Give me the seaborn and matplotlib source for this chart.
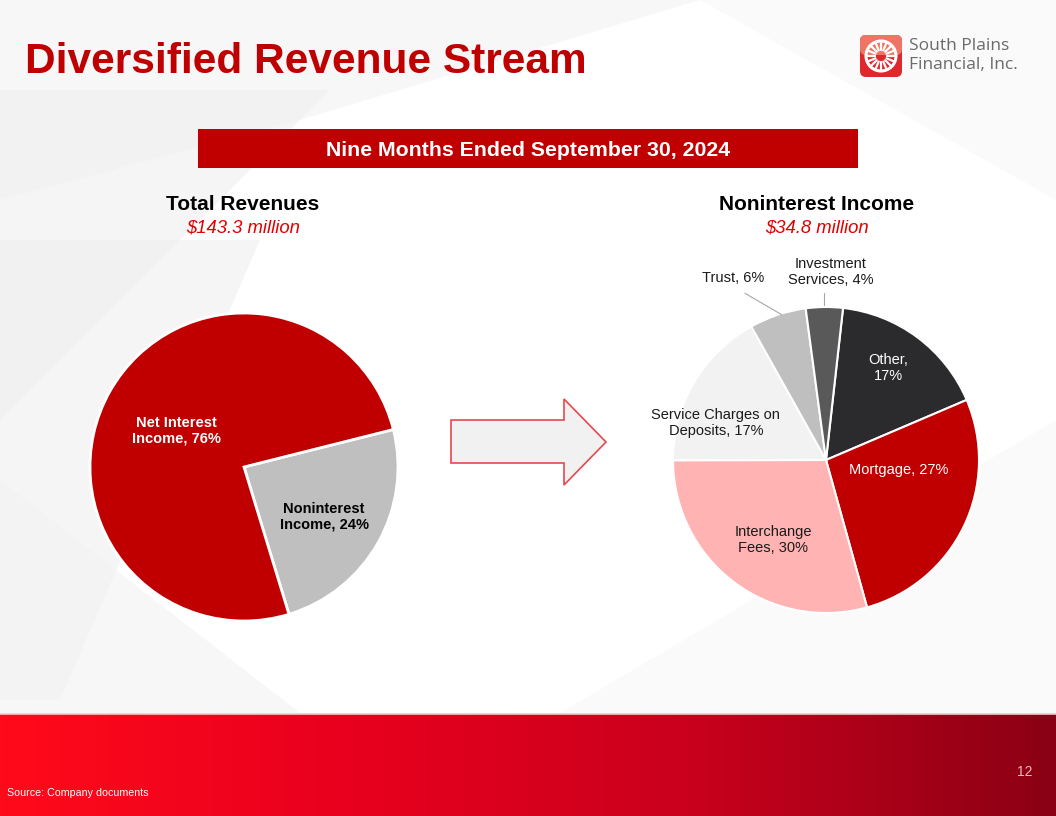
import numpy as np
import matplotlib
matplotlib.use("Agg")
import matplotlib.pyplot as plt
import seaborn as sns
from matplotlib.patches import Polygon, FancyBboxPatch, Circle
from matplotlib.colors import LinearSegmentedColormap

sns.set_theme(style="white")
plt.rcParams['font.family'] = ['Liberation Sans', 'DejaVu Sans']

# Data
total_labels = ['Noninterest\nIncome, 24%', 'Net Interest\nIncome, 76%']
total_values = [24.2, 75.8]
total_colors = ['#BFBFBF', '#C00000']

nonint_labels = ['Other,\n17%', 'Mortgage, 27%', 'Interchange\nFees, 30%',
                 'Service Charges on\nDeposits, 17%', 'Trust, 6%', 'Investment\nServices, 4%']
nonint_values = [16.8, 27.1, 29.3, 16.9, 6.0, 3.9]
nonint_colors = ['#2B2B2D', '#C00000', '#FFB3B3', '#F2F2F2', '#BFBFBF', '#595959']

W, H = 1056, 816
fig = plt.figure(figsize=(W / 100, H / 100), dpi=100)
fig.patch.set_facecolor('white')

# background / slide decoration in pixel coordinates
bg = fig.add_axes([0, 0, 1, 1])
bg.set_xlim(0, W)
bg.set_ylim(H, 0)
bg.axis('off')

grays = [
    ([(0, 0), (700, 0), (300, 120), (0, 200)], '#F3F3F3'),
    ([(0, 90), (330, 90), (0, 420)], '#EFEFEF'),
    ([(0, 240), (260, 240), (60, 700), (0, 700)], '#EFEFEF'),
    ([(0, 480), (300, 713), (0, 713)], '#F3F3F3'),
    ([(560, 713), (1056, 420), (1056, 713)], '#F8F8F8'),
    ([(700, 0), (1056, 0), (1056, 200)], '#F8F8F8'),
]
for pts, c in grays:
    bg.add_patch(Polygon(pts, closed=True, facecolor=c, edgecolor='none', alpha=0.6))

band_cmap = LinearSegmentedColormap.from_list('band', ['#FF0A1A', '#E8001E', '#C8001C', '#8A0014'])
bg.imshow(np.linspace(0, 1, 256)[None, :], extent=[0, W, H, 714], cmap=band_cmap,
          aspect='auto', zorder=1)
bg.plot([0, W], [714, 714], color='#F4C6C9', lw=1.2, zorder=2)
bg.set_xlim(0, W)
bg.set_ylim(H, 0)

# title
bg.text(25, 62, 'Diversified Revenue Stream', color='#C00000', fontsize=30.5,
        fontweight='bold', va='center', ha='left')

# logo
bg.add_patch(FancyBboxPatch((860, 35), 42, 42, boxstyle='round,pad=0,rounding_size=6',
                            facecolor='#E0272B', edgecolor='none', zorder=3))
bg.add_patch(FancyBboxPatch((860, 35), 42, 20, boxstyle='round,pad=0,rounding_size=6',
                            facecolor='#EE7565', edgecolor='none', zorder=3))
bg.add_patch(Circle((881, 56), 15, facecolor='none', edgecolor='white', lw=2.2, zorder=4))
for a in np.linspace(0, 2 * np.pi, 16, endpoint=False):
    bg.plot([881 + 6 * np.cos(a), 881 + 14 * np.cos(a)],
            [56 + 6 * np.sin(a), 56 + 14 * np.sin(a)], color='white', lw=1.6, zorder=4)
bg.text(909, 46, 'South Plains', color='#6A6A6A', fontsize=12.5, va='center', ha='left',
        family=['Open Sans', 'DejaVu Sans'])
bg.text(909, 65, 'Financial, Inc.', color='#6A6A6A', fontsize=12.5, va='center', ha='left',
        family=['Open Sans', 'DejaVu Sans'])

# banner
bg.add_patch(Polygon([(198, 129), (858, 129), (858, 168), (198, 168)], closed=True,
                     facecolor='#C00000', edgecolor='none', zorder=3))
bg.text(528, 150, 'Nine Months Ended September 30, 2024', color='white', fontsize=15.3,
        fontweight='bold', ha='center', va='center', zorder=4)

# pie headers
bg.text(243, 205, 'Total Revenues', fontsize=15, fontweight='bold', color='black',
        ha='center', va='center')
bg.text(243, 228, '$143.3 million', fontsize=13.3, style='italic', color='#E00000',
        ha='center', va='center')
bg.text(817, 205, 'Noninterest Income', fontsize=15, fontweight='bold', color='black',
        ha='center', va='center')
bg.text(817, 228, '$34.8 million', fontsize=13.3, style='italic', color='#E00000',
        ha='center', va='center')

# arrow
bg.add_patch(Polygon([(451, 420), (564, 420), (564, 399), (606, 442), (564, 485),
                      (564, 463), (451, 463)], closed=True, facecolor='#F1F1F1',
                     edgecolor='#E5484D', lw=1.2, zorder=3))

# footer
bg.text(1025, 772, '12', color='#F2B8BC', fontsize=10, ha='center', va='center', zorder=3)
bg.text(7, 793, 'Source: Company documents', color='white', fontsize=7.7, ha='left',
        va='center', zorder=3)


def pie_axes(cx, cy, r, lim=1.5):
    size = 2 * lim * r
    ax = fig.add_axes([(cx - size / 2) / W, (H - cy - size / 2) / H, size / W, size / H])
    ax.set_xlim(-lim, lim)
    ax.set_ylim(-lim, lim)
    ax.set_aspect('equal')
    ax.axis('off')
    return ax


# Total revenues pie
ax1 = pie_axes(244, 467, 154)
ax1.pie(total_values, colors=total_colors, startangle=14.1, counterclock=False,
        wedgeprops=dict(edgecolor='white', linewidth=2), radius=1)
ax1.set_xlim(-1.5, 1.5)
ax1.set_ylim(-1.5, 1.5)
left_pos = [(0.52, -0.325), (-0.44, 0.234)]
left_txt = ['black', 'white']
for lab, (x, y), c in zip(total_labels, left_pos, left_txt):
    ax1.text(x, y, lab, color=c, fontsize=10.5, fontweight='bold', ha='center',
             va='center', linespacing=1.15)

# Noninterest income pie
ax2 = pie_axes(826, 460, 153)
ax2.pie(nonint_values, colors=nonint_colors, startangle=83.6, counterclock=False,
        wedgeprops=dict(edgecolor='white', linewidth=1.5), radius=1)
ax2.set_xlim(-1.5, 1.5)
ax2.set_ylim(-1.5, 1.5)
right_pos = [(0.405, 0.60), (0.477, -0.065), (-0.346, -0.523), (-0.72, 0.242),
             (-0.608, 1.19), (0.03, 1.229)]
right_txt = ['white', 'white', '#1A1A1A', '#1A1A1A', '#1A1A1A', '#1A1A1A']
for lab, (x, y), c in zip(nonint_labels, right_pos, right_txt):
    ax2.text(x, y, lab, color=c, fontsize=10.5, ha='center', va='center',
             linespacing=1.15)
ax2.plot([-0.53, -0.29], [1.09, 0.95], color='#A6A6A6', lw=0.8)
ax2.plot([-0.013, -0.013], [1.09, 1.01], color='#A6A6A6', lw=0.8)

fig.savefig('out.png', dpi=100)
